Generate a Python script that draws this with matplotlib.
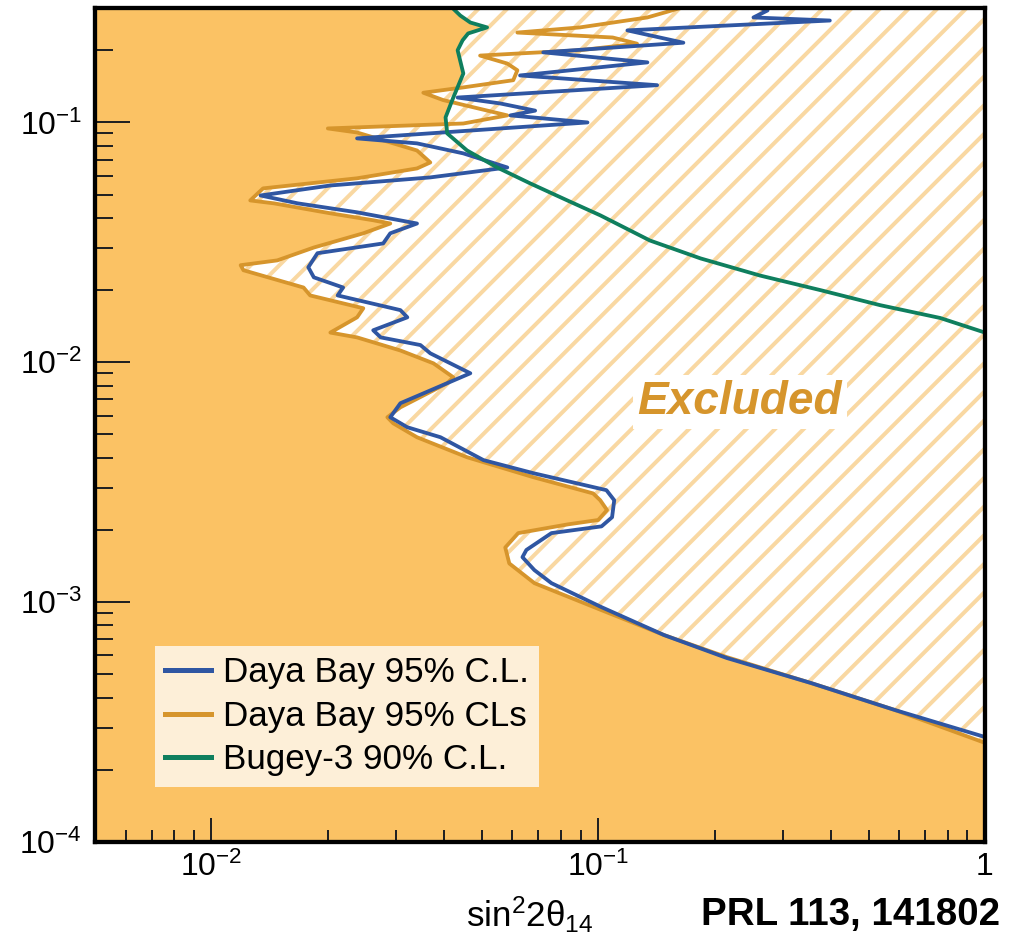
import numpy as np
import matplotlib
matplotlib.use("Agg")
import matplotlib.pyplot as plt
from matplotlib.patches import Rectangle
from matplotlib.ticker import FixedLocator, FixedFormatter, LogLocator, NullFormatter

DPI = 86


def pt(px):
    # sizes are thought of in output pixels
    return px * 72.0 / DPI


plt.rcParams["font.family"] = ["Liberation Sans", "DejaVu Sans"]
plt.rcParams["mathtext.fontset"] = "custom"
plt.rcParams["mathtext.rm"] = "Liberation Sans"
plt.rcParams["mathtext.it"] = "Liberation Sans:italic"
plt.rcParams["hatch.linewidth"] = pt(4.0)

## Daya Bay 95% CLs contour (Delta m^2, sin^2 2theta)
cls_y = [2.59e-4, 3.55e-4, 4.60e-4, 5.90e-4, 7.29e-4, 9.26e-4, 1.20e-3, 1.45e-3, 1.69e-3,
         1.94e-3, 2.11e-3, 2.20e-3, 2.42e-3, 2.66e-3, 2.84e-3, 3.32e-3, 4.02e-3, 4.87e-3,
         5.57e-3, 5.90e-3, 6.49e-3, 8.18e-3, 8.66e-3, 9.90e-3, 1.12e-2, 1.27e-2, 1.33e-2,
         1.54e-2, 1.68e-2, 1.90e-2, 2.05e-2, 2.42e-2, 2.54e-2, 2.66e-2, 3.01e-2, 3.45e-2,
         3.79e-2, 3.91e-2, 4.18e-2, 4.60e-2, 4.73e-2, 5.31e-2, 5.85e-2, 6.43e-2, 6.81e-2,
         7.64e-2, 9.08e-2, 9.44e-2, 9.90e-2, 0.107, 0.124, 0.133, 0.140, 0.150, 0.165,
         0.176, 0.190, 0.194, 0.200, 0.213, 0.226, 0.237, 0.249, 0.274, 0.300]
cls_x = [1.0, 0.585, 0.355, 0.215, 0.148, 0.102, 0.0684, 0.0589, 0.0575,
         0.0621, 0.0835, 0.100, 0.1054, 0.1012, 0.097, 0.0679, 0.0458, 0.0340,
         0.0295, 0.0285, 0.0308, 0.0407, 0.0422, 0.0375, 0.0308, 0.0238, 0.0203,
         0.0238, 0.0247, 0.0180, 0.0173, 0.0121, 0.0119, 0.0148, 0.0184, 0.0247,
         0.0290, 0.0262, 0.0203, 0.0145, 0.0126, 0.0136, 0.0238, 0.0340, 0.0368,
         0.0340, 0.0238, 0.0200, 0.0448, 0.0582, 0.0397, 0.0353, 0.0448, 0.0603, 0.0618,
         0.0582, 0.0495, 0.0628, 0.0897, 0.126, 0.109, 0.0618, 0.0897, 0.134, 0.163]

## Daya Bay 95% C.L. contour
cl_y = [2.74e-4, 3.55e-4, 4.60e-4, 5.85e-4, 7.29e-4, 9.53e-4, 1.20e-3, 1.36e-3, 1.54e-3,
        1.65e-3, 1.94e-3, 2.07e-3, 2.26e-3, 2.66e-3, 2.93e-3, 3.45e-3, 3.91e-3, 4.87e-3,
        5.36e-3, 5.90e-3, 6.75e-3, 9.00e-3, 1.09e-2, 1.18e-2, 1.27e-2, 1.36e-2, 1.54e-2,
        1.65e-2, 1.90e-2, 2.05e-2, 2.26e-2, 2.49e-2, 2.85e-2, 3.13e-2, 3.45e-2, 3.79e-2,
        4.22e-2, 4.60e-2, 4.96e-2, 5.46e-2, 5.90e-2, 6.49e-2, 7.43e-2, 8.18e-2, 8.58e-2,
        0.100, 0.107, 0.112, 0.120, 0.127, 0.143, 0.157, 0.178, 0.196, 0.215,
        0.242, 0.266, 0.274, 0.293, 0.300]
cl_x = [1.0, 0.585, 0.355, 0.215, 0.148, 0.102, 0.0757, 0.0684, 0.0637,
        0.0652, 0.0757, 0.102, 0.1086, 0.110, 0.105, 0.0679, 0.0505, 0.0391,
        0.0321, 0.0290, 0.0308, 0.0467, 0.0368, 0.0347, 0.0274, 0.0262, 0.0321,
        0.0308, 0.0212, 0.0219, 0.0184, 0.0178, 0.0188, 0.0278, 0.0290, 0.0340,
        0.0238, 0.0167, 0.0134, 0.0203, 0.0368, 0.0582, 0.0448, 0.0340, 0.0238,
        0.0938, 0.0593, 0.0687, 0.0558, 0.0433, 0.142, 0.0628, 0.134, 0.0721, 0.166,
        0.119, 0.397, 0.252, 0.274, 0.262]

## Bugey-3 90% C.L.
bugey_y = [1.33e-2, 1.53e-2, 1.73e-2, 2.00e-2, 2.30e-2, 2.71e-2, 3.22e-2, 4.10e-2, 4.73e-2,
           5.57e-2, 6.49e-2, 7.64e-2, 9.00e-2, 0.105, 0.127, 0.160, 0.200, 0.220, 0.235,
           0.249, 0.261, 0.279, 0.300]
bugey_x = [1.0, 0.766, 0.536, 0.375, 0.262, 0.184, 0.136, 0.1012, 0.0832,
           0.0667, 0.0548, 0.0458, 0.0407, 0.0403, 0.0422, 0.0448, 0.0433, 0.0446, 0.0461,
           0.0516, 0.0467, 0.0440, 0.0420]

labels = ["Daya Bay 95% C.L.", "Daya Bay 95% CLs", "Bugey-3 90% C.L."]
xticks = [1e-2, 1e-1, 1]
xticklabels = [r"$\mathdefault{10^{-2}}$", r"$\mathdefault{10^{-1}}$", "1"]
yticks = [1e-4, 1e-3, 1e-2, 1e-1]
yticklabels = [r"$\mathdefault{10^{-4}}$", r"$\mathdefault{10^{-3}}$",
               r"$\mathdefault{10^{-2}}$", r"$\mathdefault{10^{-1}}$"]

c_fill = "#fbc264"
c_hatch = "#f9d8a2"
c_blue = "#2f56a2"
c_orange = "#d6952c"
c_green = "#0f7f5e"

fig = plt.figure(figsize=(1010 / DPI, 945 / DPI), dpi=DPI)
ax = fig.add_axes([95 / 1010, 103 / 945, 890 / 1010, 834 / 945])
ax.set_xscale("log")
ax.set_yscale("log")
ax.set_xlim(0.005, 1)
ax.set_ylim(1e-4, 0.3)

# hatched excluded background
ax.add_patch(Rectangle((0, 0), 1, 1, transform=ax.transAxes, facecolor="white",
                       edgecolor=c_hatch, hatch="/", lw=0, zorder=0))

# allowed region: left of the CLs curve and of Bugey-3
ly = np.linspace(-4, np.log10(0.3), 4000)
lx_cls = np.interp(ly, np.log10(cls_y), np.log10(cls_x), left=0.1, right=np.log10(cls_x[-1]))
lx_bug = np.interp(ly, np.log10(bugey_y), np.log10(bugey_x), left=0.1, right=np.log10(bugey_x[-1]))
ax.fill_betweenx(10 ** ly, 1e-3, 10 ** np.minimum(lx_cls, lx_bug), color=c_fill, lw=0, zorder=1)

lw = pt(3.8)
ax.plot(cl_x, cl_y, color=c_blue, lw=lw, zorder=4, label=labels[0])
ax.plot(cls_x, cls_y, color=c_orange, lw=lw, zorder=3, label=labels[1])
ax.plot(bugey_x, bugey_y, color=c_green, lw=lw, zorder=5, label=labels[2])

ax.text(0.7247, 0.5276, "Excluded", transform=ax.transAxes, ha="center", va="center",
        fontsize=pt(46), fontweight="bold", fontstyle="italic", color=c_orange, zorder=6,
        bbox=dict(facecolor="white", edgecolor="none", pad=pt(5)))

leg = ax.legend(loc="lower left", bbox_to_anchor=(0.0674, 0.066), fontsize=pt(35),
                frameon=True, fancybox=False, facecolor="#fdefd8", edgecolor="none",
                framealpha=1, handlelength=1.3, handletextpad=0.34, labelspacing=0.30,
                borderpad=0.3, borderaxespad=0)
for h in leg.get_lines():
    h.set_linewidth(pt(5))

ax.xaxis.set_major_locator(FixedLocator(xticks))
ax.xaxis.set_major_formatter(FixedFormatter(xticklabels))
ax.yaxis.set_major_locator(FixedLocator(yticks))
ax.yaxis.set_major_formatter(FixedFormatter(yticklabels))
ax.xaxis.set_minor_locator(LogLocator(base=10, subs=np.arange(2, 10)))
ax.yaxis.set_minor_locator(LogLocator(base=10, subs=np.arange(2, 10)))
ax.xaxis.set_minor_formatter(NullFormatter())
ax.yaxis.set_minor_formatter(NullFormatter())
ax.tick_params(which="both", direction="in", top=False, right=False, width=pt(2),
               colors="#222222", labelcolor="black", labelsize=pt(32))
ax.tick_params(axis="x", which="major", length=pt(24), pad=pt(10))
ax.tick_params(axis="x", which="minor", length=pt(12))
ax.tick_params(axis="y", which="major", length=pt(35), pad=pt(13))
ax.tick_params(axis="y", which="minor", length=pt(17.5))
for s in ax.spines.values():
    s.set_linewidth(pt(4.3))
    s.set_zorder(10)

fig.text(530 / 1010, 1 - 915 / 945, r"sin$^2$2θ$_{14}$", ha="center", va="center", fontsize=pt(35))
fig.text(1000 / 1010, 1 - 915 / 945, "PRL 113, 141802", ha="right", va="center",
         fontsize=pt(38.5), fontweight="bold")

fig.savefig("out.png", dpi=DPI)
